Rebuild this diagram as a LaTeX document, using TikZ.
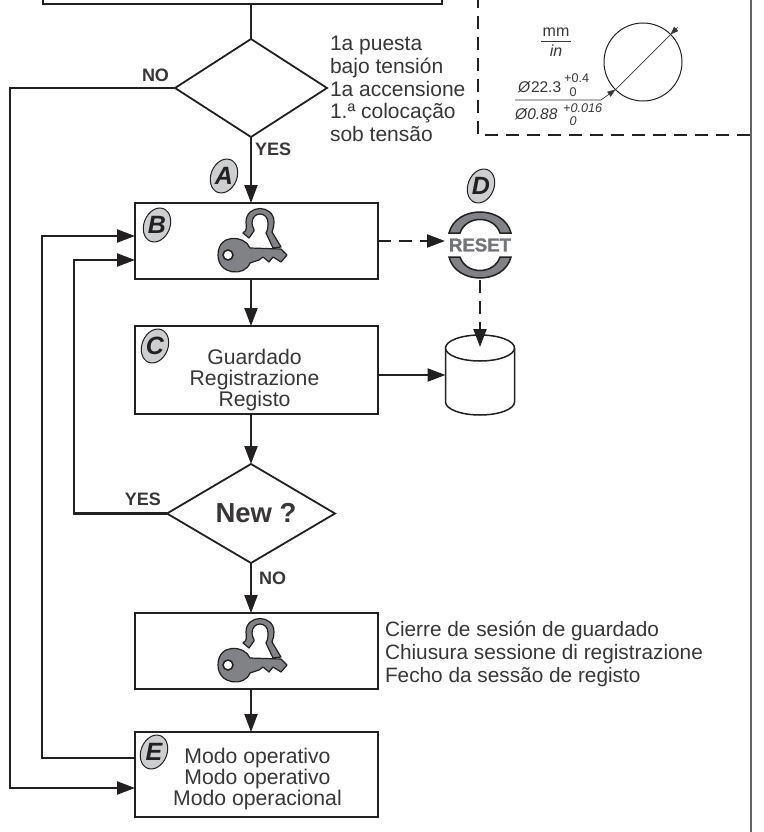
\documentclass[tikz,border=0pt]{standalone}
\usepackage{fontspec}
\setmainfont{Liberation Sans}
\newfontfamily\resetfont[FakeBold=1.5]{Liberation Sans Bold}
\usetikzlibrary{shapes.geometric, arrows.meta, positioning, calc}
\definecolor{linedark}{RGB}{34, 32, 33}
\definecolor{textdark}{RGB}{56, 54, 55}
\definecolor{railgray}{RGB}{100, 100, 100}
\definecolor{keygray}{RGB}{128, 130, 133}
\definecolor{badgegray}{RGB}{205, 206, 208}
\newcommand{\bodyfont}{\fontsize{21.2}{21}\selectfont}
\newcommand{\badge}[2]{%
  \node (badge#1) [badgeshape] at (#2) {};
  \node (letter#1) [badgeletter] at (badge#1) {#1};}

\begin{document}
\begin{tikzpicture}[
    x=1pt, y=-1pt,
    box/.style={rectangle, draw=linedark, line width=2.2pt, minimum width=243pt, minimum height=76pt, outer sep=0pt, inner sep=0pt},
    decision/.style={diamond, draw=linedark, line width=1.8pt, outer sep=0pt, inner sep=0pt, minimum width=152pt, minimum height=98pt},
    arrow/.style={line width=2.2pt, draw=linedark, -{Triangle[length=18pt, width=13pt]}},
    plain/.style={line width=2.2pt, draw=linedark},
    dasharrow/.style={arrow, dash pattern=on 13pt off 8pt},
    frameline/.style={line width=2.2pt, draw=linedark, dash pattern=on 13pt off 8pt},
    bodytext/.style={font=\bodyfont, text=textdark, align=center, inner sep=0pt, outer sep=0pt},
    sidetext/.style={bodytext, align=left},
    flag/.style={font=\fontsize{18}{18}\selectfont\bfseries, text=textdark, inner sep=0pt, outer sep=0pt},
    badgeshape/.style={ellipse, draw=linedark, line width=1pt, fill=badgegray, minimum width=26pt, minimum height=35pt, inner sep=0pt, rotate=-22},
    badgeletter/.style={font=\fontsize{25}{25}\selectfont\bfseries\itshape, text=linedark, inner sep=0pt},
    dimtext/.style={font=\fontsize{15.5}{15.5}\selectfont, text=textdark, inner sep=0pt, anchor=west},
    tolerance/.style={font=\fontsize{12.6}{12.6}\selectfont, text=textdark, inner sep=0pt},
    dimline/.style={line width=0.7pt, draw=textdark},
    keyicon/.pic={
        \draw [line width=1.2pt, draw=linedark, fill=keygray, line join=round] (8,-22) .. controls (13,-25) and (11,-29) .. (11,-33) .. controls (11,-51) and (39,-51) .. (39,-33) .. controls (39,-27) and (37,-25) .. (37,-23) -- (46,-8) -- (38,-7) -- (31,-22) .. controls (33,-26) and (33,-28) .. (33,-32) .. controls (33,-44) and (17,-44) .. (17,-32) .. controls (17,-28) and (20,-25) .. (19,-24) -- (14,-17) -- cycle;
        \draw [line width=1.2pt, draw=linedark, fill=keygray, line join=round] (15,-7) -- (46,-6) -- (52,0) -- (46,7) -- (38,2) -- (34,7) -- (28,2) -- (24,5) -- (15,8) .. controls (10,22) and (-17,20) .. (-17,0) .. controls (-17,-22) and (10,-20) .. (15,-7) -- cycle;
        \draw [line width=1.5pt, draw=linedark, fill=white] (-7,0) circle (5);
    }
]

\useasboundingbox (0,0) rectangle (763,832);
\clip (0,0) rectangle (763,832);

\node (check) [decision] at (251,88) {};
\node (power) [box, above=35pt of check, xshift=-8.5pt, minimum width=399pt, minimum height=60pt] {};
\node (boxb) [box, below=66pt of check, xshift=5.5pt] {};
\node (boxc) [box, below=47pt of boxb, minimum height=88pt] {};
\node (newq) [decision, below=50pt of boxc, xshift=-5.5pt, minimum width=168pt, minimum height=99pt] {};
\node (newtext) [font=\fontsize{27.5}{27.5}\selectfont\bfseries, text=textdark, inner sep=0pt] at ([xshift=5pt]newq.center) {New ?};
\node (boxf) [box, below=50pt of newq, xshift=5.5pt] {};
\node (boxe) [box, below=43pt of boxf, minimum height=85pt] {};

\node (reset) [right=71pt of boxb, yshift=-4pt, minimum width=62pt, minimum height=64pt, inner sep=0pt, outer sep=0pt, font=\fontsize{18.6}{18.6}\selectfont\resetfont, text=keygray!90!black] {RESET};
\node (store) [rectangle, minimum width=69pt, minimum height=80pt, outer sep=0pt, inner sep=0pt, below=58pt of reset] {};
\coordinate (storein) at ([yshift=-12pt]store.north);

\draw [line width=1.5pt, draw=linedark, fill=white] ([yshift=-13pt]store.north west) -- ([yshift=13pt]store.south west) arc[start angle=180, end angle=360, x radius=34.5pt, y radius=13pt] -- ([yshift=-13pt]store.north east);
\draw [line width=1.5pt, draw=linedark, fill=white] ([yshift=-13pt]store.north) ellipse [x radius=34.5pt, y radius=13pt];

\draw [line width=1.5pt, draw=linedark, fill=keygray] ([xshift=-31pt,yshift=-12pt]reset.center) .. controls ([xshift=-24pt,yshift=-40pt]reset.center) and ([xshift=24pt,yshift=-40pt]reset.center) .. ([xshift=31pt,yshift=-12pt]reset.center) -- ([xshift=20pt,yshift=-12pt]reset.center) .. controls ([xshift=14pt,yshift=-30pt]reset.center) and ([xshift=-14pt,yshift=-30pt]reset.center) .. ([xshift=-20pt,yshift=-12pt]reset.center) -- cycle;
\draw [line width=1.5pt, draw=linedark, fill=keygray] ([xshift=-31pt,yshift=12pt]reset.center) .. controls ([xshift=-24pt,yshift=40pt]reset.center) and ([xshift=24pt,yshift=40pt]reset.center) .. ([xshift=31pt,yshift=12pt]reset.center) -- ([xshift=20pt,yshift=12pt]reset.center) .. controls ([xshift=14pt,yshift=30pt]reset.center) and ([xshift=-14pt,yshift=30pt]reset.center) .. ([xshift=-20pt,yshift=12pt]reset.center) -- cycle;

\pic at ([xshift=-21.5pt,yshift=-14pt]boxb.center) {keyicon};
\pic at ([xshift=-21.5pt,yshift=-14pt]boxf.center) {keyicon};

\node (starttext) [sidetext, right=3pt of check, yshift=-1pt, font=\fontsize{21}{22.6}\selectfont] {1a puesta\\bajo tensión\\1a accensione\\1.ª colocação\\sob tensão};
\node (guardado) [bodytext] at ([yshift=-10pt,xshift=-2pt]boxc.center) {Guardado\\Registrazione\\Registo};
\node (cierre) [sidetext, right=7pt of boxf, yshift=-3pt, font=\fontsize{20.8}{23}\selectfont] {Cierre de sesión de guardado\\Chiusura sessione di registrazione\\Fecho da sessão de registo};
\node (modo) [bodytext] at ([yshift=-4.5pt,xshift=1pt]boxe.center) {Modo operativo\\Modo operativo\\Modo operacional};

\node (checkno) [flag, above left=6pt and 6pt of check.west] {NO};
\node (checkyes) [flag, below right=6pt and 4pt of check.south] {YES};
\node (newyes) [flag, above left=8pt and 6pt of newq.west] {YES};
\node (newno) [flag, below right=9pt and 8pt of newq.south] {NO};

\badge{A}{[xshift=-32.5pt,yshift=27pt]boxb.north}
\badge{B}{[xshift=22pt,yshift=-22pt]boxb.north west}
\badge{C}{[xshift=20pt,yshift=-20pt]boxc.north west}
\badge{D}{[xshift=1pt,yshift=59pt]reset.center}
\badge{E}{[xshift=19pt,yshift=-20pt]boxe.north west}

\draw [plain] (power.south -| check.north) -- (check.north);
\draw [arrow] (check.south) -- (check.south |- boxb.north);
\draw [arrow] (boxb.south -| check.south) -- (boxc.north -| check.south);
\draw [arrow] (boxc.south -| newq.north) -- (newq.north);
\draw [arrow] (newq.south) -- (newq.south |- boxf.north);
\draw [arrow] (boxf.south -| newq.south) -- (boxe.north -| newq.south);
\draw [arrow] (check.west) -- ++(-165,0) |- ([yshift=-13.5pt]boxe.west);
\draw [arrow] ([yshift=16.5pt]boxe.west) -- ++(-93,0) |- ([yshift=5pt]boxb.west);
\draw [arrow] (newq.west) -- ++(-93,0) |- ([yshift=-19pt]boxb.west);
\draw [arrow] (boxc.east |- store.west) -- (store.west);
\draw [dasharrow, shorten >=4pt] (boxb.east) -- (boxb.east -| reset.west);
\draw [dasharrow, shorten <=3pt] (reset.south) -- (reset.south |- storein);

\coordinate (frametop) at (478,-5);
\coordinate (framecorner) at (478,135);
\coordinate (frameend) at (750,135);
\coordinate (railtop) at (750.5,-5);
\coordinate (railend) at (750.5,840);
\draw [frameline] (frametop) -- (framecorner) -- (frameend);
\draw [line width=2pt, draw=railgray] (railtop) -- (railend);

\node (hole) [circle, draw=linedark, line width=1pt, minimum size=78pt, outer sep=0pt, inner sep=0pt] at (643,62) {};
\node (mmtext) [font=\fontsize{16}{16}\selectfont, text=textdark, inner sep=0pt] at (556,32) {mm};
\node (intext) [font=\fontsize{16}{16}\selectfont\itshape, text=textdark, inner sep=0pt] at (556,51) {in};
\coordinate (ruleleft) at (541,41);
\coordinate (ruleright) at (571,41);
\draw [dimline] (ruleleft) -- (ruleright);

\node (dimmm) [dimtext] at (518,87) {\textit{Ø}22.3};
\node (dimin) [dimtext, font=\fontsize{15.5}{15.5}\selectfont\itshape] at (515,114) {Ø0.88};
\node (tolmmup) [tolerance, anchor=west] at (564,78) {+0.4};
\node (tolmmlow) [tolerance] at (573,92) {0};
\node (tolinup) [tolerance, anchor=west, font=\fontsize{12.6}{12.6}\selectfont\itshape] at (563,108) {+0.016};
\node (tolinlow) [tolerance, font=\fontsize{12.6}{12.6}\selectfont\itshape] at (573,121) {0};

\coordinate (dimstart) at (515,100);
\coordinate (dimbend) at (601,100);
\coordinate (dimout) at ($(hole.45)+(7,-7)$);
\draw [dimline, -{Triangle[length=8pt, width=6pt]}] (dimstart) -- (dimbend) -- (hole.225);
\draw [dimline] (hole.225) -- (hole.45);
\draw [dimline, {Triangle[length=8pt, width=6pt]}-] (hole.45) -- (dimout);

\end{tikzpicture}
\end{document}
